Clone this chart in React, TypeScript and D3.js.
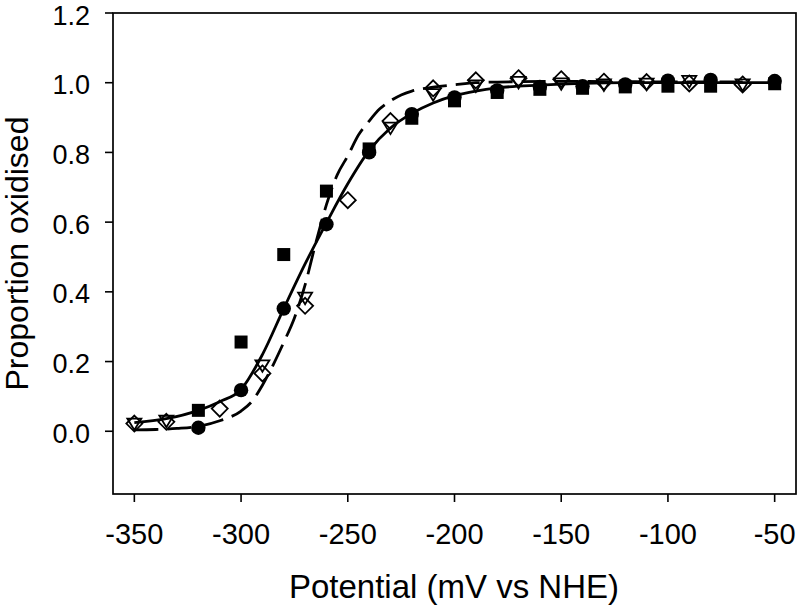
import React from "react";
import * as d3 from "d3";

// ---- data ----
const circleX = [-320, -300, -280, -260, -240, -220, -200, -180, -160, -140, -120, -100, -80, -50];
const circleY = [0.01, 0.118, 0.352, 0.594, 0.80, 0.91, 0.958, 0.978, 0.988, 0.99, 0.995, 1.006, 1.008, 1.005];

const squareX = [-320, -300, -280, -260, -240, -220, -200, -180, -160, -140, -120, -100, -80, -50];
const squareY = [0.06, 0.256, 0.507, 0.689, 0.81, 0.898, 0.948, 0.972, 0.981, 0.984, 0.988, 0.99, 0.99, 0.997];

const diamondX = [-350, -335, -310, -290, -270, -250, -230, -210, -190, -170, -150, -130, -110, -90, -65];
const diamondY = [0.022, 0.027, 0.065, 0.166, 0.36, 0.663, 0.89, 0.984, 1.007, 1.013, 1.01, 1.003, 1.002, 0.998, 0.995];

const triangleX = [-350, -335, -290, -270, -230, -210, -190, -170, -150, -130, -110, -90, -65];
const triangleY = [0.02, 0.028, 0.187, 0.381, 0.869, 0.965, 0.99, 1.0, 0.996, 0.993, 0.995, 1.003, 0.993];

// fitted curves
const solidX = [-350, -335, -320, -310, -300, -290, -280, -270, -260, -250, -240, -230, -220, -210, -200, -190, -180, -160, -140, -120, -100, -80, -50];
const solidY = [0.025, 0.036, 0.06, 0.085, 0.12, 0.22, 0.352, 0.48, 0.598, 0.71, 0.805, 0.87, 0.912, 0.942, 0.963, 0.976, 0.985, 0.993, 0.998, 1.0, 1.0, 1.0, 1.0];

const dashX = [-350, -340, -330, -320, -310, -300, -295, -290, -285, -280, -275, -270, -265, -260, -255, -250, -245, -240, -235, -230, -225, -220, -210, -200, -190, -170, -150, -120, -90, -65];
const dashY = [0.004, 0.005, 0.008, 0.014, 0.03, 0.058, 0.085, 0.132, 0.19, 0.255, 0.325, 0.42, 0.54, 0.65, 0.735, 0.79, 0.85, 0.89, 0.925, 0.948, 0.965, 0.976, 0.987, 0.994, 1.0, 1.003, 1.004, 1.003, 1.002, 1.002];

const xTicks = [-350, -300, -250, -200, -150, -100, -50];
const yTicks = [0.0, 0.2, 0.4, 0.6, 0.8, 1.0, 1.2];

const xTitle = "Potential (mV vs NHE)";
const yTitle = "Proportion oxidised";

const W = 797;
const H = 607;
const FONT = "'Liberation Sans', Arial, Helvetica, sans-serif";

export default function App() {
  const left = 113, right = 796, top = 13, bottom = 494;
  const x = d3.scaleLinear().domain([-360, -40]).range([left, right]);
  const y = d3.scaleLinear().domain([-0.18, 1.2]).range([bottom, top]);

  const line = d3
    .line<[number, number]>()
    .x((d) => x(d[0]))
    .y((d) => y(d[1]))
    .curve(d3.curveMonotoneX);

  const solidPath = line(solidX.map((v, i) => [v, solidY[i]]) as [number, number][]) || "";
  const dashPath = line(dashX.map((v, i) => [v, dashY[i]]) as [number, number][]) || "";

  const r = 7.2;
  const sq = 13;
  const dm = 8;
  const tw = 7;
  const th = 11.5;

  return (
    <svg
      width={W}
      height={H}
      viewBox={`0 0 ${W} ${H}`}
      style={{ position: "absolute", left: 0, top: 0, background: "#fff" }}
    >
      <rect x={0} y={0} width={W} height={H} fill="#fff" />
      {/* frame */}
      <rect x={left} y={top} width={right - left} height={bottom - top} fill="none" stroke="#000" strokeWidth={1.7} />

      {/* y ticks */}
      {yTicks.map((t) => (
        <g key={"y" + t}>
          <line x1={left - 8} x2={left} y1={y(t)} y2={y(t)} stroke="#000" strokeWidth={1.6} />
          <text x={90} y={y(t) + 11.5} textAnchor="end" fontFamily={FONT} fontSize={27} fill="#000">
            {t.toFixed(1)}
          </text>
        </g>
      ))}

      {/* x ticks */}
      {xTicks.map((t) => (
        <g key={"x" + t}>
          <line x1={x(t)} x2={x(t)} y1={bottom} y2={bottom + 8} stroke="#000" strokeWidth={1.6} />
          <text x={x(t)} y={544} textAnchor="middle" fontFamily={FONT} fontSize={29} fill="#000">
            {t}
          </text>
        </g>
      ))}

      {/* titles */}
      <text x={454} y={598} textAnchor="middle" fontFamily={FONT} fontSize={33} fill="#000">
        {xTitle}
      </text>
      <text
        transform={`translate(28, ${(top + bottom) / 2}) rotate(-90)`}
        textAnchor="middle"
        fontFamily={FONT}
        fontSize={32}
        fill="#000"
      >
        {yTitle}
      </text>

      {/* open markers */}
      {triangleX.map((v, i) => {
        const cx = x(v), cy = y(triangleY[i]);
        return (
          <path
            key={"t" + i}
            d={`M${cx - tw},${cy - th / 2} L${cx + tw},${cy - th / 2} L${cx},${cy + th / 2} Z`}
            fill="#fff"
            stroke="#000"
            strokeWidth={1.8}
          />
        );
      })}
      {diamondX.map((v, i) => {
        const cx = x(v), cy = y(diamondY[i]);
        return (
          <path
            key={"d" + i}
            d={`M${cx},${cy - dm} L${cx + dm},${cy} L${cx},${cy + dm} L${cx - dm},${cy} Z`}
            fill="none"
            stroke="#000"
            strokeWidth={1.8}
          />
        );
      })}

      {/* fitted curves */}
      <path d={solidPath} fill="none" stroke="#000" strokeWidth={2.8} />
      <path d={dashPath} fill="none" stroke="#000" strokeWidth={2.8} strokeDasharray="24,9" />

      {/* filled markers */}
      {squareX.map((v, i) => (
        <rect
          key={"s" + i}
          x={x(v) - sq / 2}
          y={y(squareY[i]) - sq / 2}
          width={sq}
          height={sq}
          fill="#000"
        />
      ))}
      {circleX.map((v, i) => (
        <circle key={"c" + i} cx={x(v)} cy={y(circleY[i])} r={r} fill="#000" />
      ))}
    </svg>
  );
}
